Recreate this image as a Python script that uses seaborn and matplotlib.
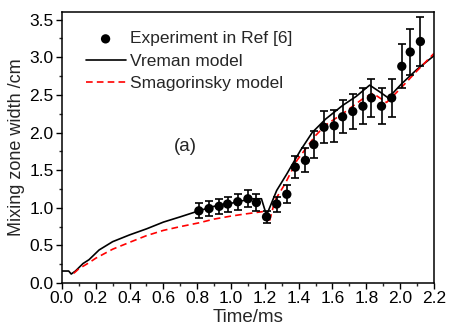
import matplotlib
matplotlib.use("Agg")
import matplotlib.pyplot as plt
from matplotlib.ticker import MultipleLocator
import seaborn as sns
import pandas as pd

# experiment points (Ref [6])
exp_t = [0.81, 0.87, 0.93, 0.98, 1.04, 1.10, 1.15, 1.21, 1.27, 1.33, 1.38, 1.44,
         1.49, 1.55, 1.61, 1.66, 1.72, 1.78, 1.83, 1.89, 1.95, 2.01, 2.06, 2.12]
exp_w = [0.96, 0.99, 1.02, 1.05, 1.08, 1.12, 1.07, 0.88, 1.05, 1.18, 1.54, 1.63,
         1.84, 2.07, 2.09, 2.21, 2.28, 2.35, 2.46, 2.35, 2.46, 2.88, 3.07, 3.21]
exp_err = [0.10, 0.10, 0.10, 0.10, 0.11, 0.11, 0.11, 0.08, 0.10, 0.12, 0.15, 0.16,
           0.18, 0.21, 0.21, 0.22, 0.23, 0.24, 0.25, 0.24, 0.25, 0.29, 0.31, 0.33]

# Vreman model
vre_t = [0.0, 0.04, 0.055, 0.08, 0.125, 0.16, 0.22, 0.30, 0.40, 0.50, 0.60, 0.70,
         0.81, 0.90, 1.00, 1.08, 1.13, 1.18, 1.21, 1.27, 1.33, 1.41, 1.48, 1.56,
         1.66, 1.74, 1.82, 1.88, 1.93, 2.01, 2.10, 2.20]
vre_w = [0.16, 0.16, 0.12, 0.16, 0.26, 0.31, 0.44, 0.55, 0.64, 0.72, 0.81, 0.88,
         0.96, 1.02, 1.06, 1.10, 1.12, 1.12, 0.90, 1.23, 1.45, 1.76, 2.00, 2.18,
         2.36, 2.48, 2.63, 2.54, 2.46, 2.65, 2.84, 3.02]

# Smagorinsky model
sma_t = [0.07, 0.10, 0.16, 0.20, 0.30, 0.41, 0.50, 0.60, 0.70, 0.81, 0.90, 1.00,
         1.09, 1.19, 1.225, 1.26, 1.32, 1.39, 1.45, 1.50, 1.56, 1.66, 1.78, 1.84,
         1.92, 2.00, 2.10, 2.20]
sma_w = [0.13, 0.19, 0.27, 0.33, 0.45, 0.55, 0.63, 0.70, 0.75, 0.80, 0.85, 0.89,
         0.92, 0.95, 0.80, 1.10, 1.32, 1.63, 1.81, 1.96, 2.10, 2.25, 2.45, 2.52,
         2.40, 2.58, 2.82, 3.05]

sns.set_theme(style="ticks")
plt.rcParams['font.family'] = ['Liberation Sans', 'DejaVu Sans']

fig = plt.figure(figsize=(4.52, 3.28), dpi=100)
ax = fig.add_axes([0.137, 0.137, 0.823, 0.826])

df_v = pd.DataFrame({'t': vre_t, 'w': vre_w})
df_s = pd.DataFrame({'t': sma_t, 'w': sma_w})

ax.errorbar(exp_t, exp_w, yerr=exp_err, fmt='none', ecolor='black',
            elinewidth=1.2, capsize=2.8, capthick=1.2, zorder=3)
sns.scatterplot(x=exp_t, y=exp_w, color='black', s=45, edgecolor='none',
                ax=ax, zorder=4, label='Experiment in Ref [6]')
sns.lineplot(data=df_v, x='t', y='w', sort=False, estimator=None, color='black',
             linewidth=1.2, ax=ax, label='Vreman model')
sns.lineplot(data=df_s, x='t', y='w', sort=False, estimator=None, color='red',
             linewidth=1.2, linestyle=(0, (4, 2.5)), ax=ax, label='Smagorinsky model')

ax.set_xlim(0, 2.2)
ax.set_ylim(0, 3.6)
ax.xaxis.set_major_locator(MultipleLocator(0.2))
ax.xaxis.set_minor_locator(MultipleLocator(0.1))
ax.yaxis.set_major_locator(MultipleLocator(0.5))
ax.yaxis.set_minor_locator(MultipleLocator(0.25))
ax.tick_params(which='major', direction='out', length=4, width=1, labelsize=12.5,
               colors='black', pad=2)
ax.tick_params(which='minor', direction='out', length=2.5, width=1)
ax.set_xticklabels([f"{v:.1f}" for v in ax.get_xticks()])
for s in ax.spines.values():
    s.set_linewidth(1.1)
    s.set_color('black')

ax.set_xlabel('Time/ms', fontsize=13.5, labelpad=2)
ax.set_ylabel('Mixing zone width /cm', fontsize=13, labelpad=3)
ax.text(0.73, 1.82, '(a)', fontsize=13.5, ha='center', va='center')

leg = ax.legend(loc='upper left', bbox_to_anchor=(0.045, 0.955), frameon=False,
                fontsize=12.5, handlelength=2.3, handletextpad=0.25,
                labelspacing=0.42, borderaxespad=0)

fig.savefig('out.png', dpi=100)
